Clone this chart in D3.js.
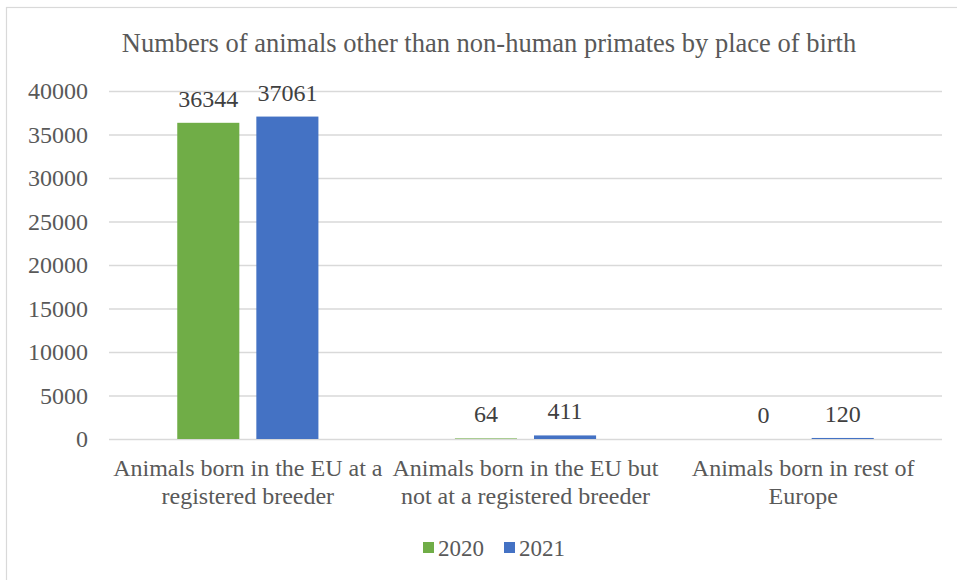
<!DOCTYPE html>
<html>
<head>
<meta charset="utf-8">
<script src="https://cdn.jsdelivr.net/npm/d3@7"></script>
<style>
  html, body { margin: 0; padding: 0; background: #fff; }
  svg { display: block; }
</style>
</head>
<body>
<svg id="chart" width="957" height="580"></svg>
<script>
// Place-of-birth categories (each label split over two lines)
const categories = [
  ["Animals born in the EU at a", "registered breeder"],
  ["Animals born in the EU but", "not at a registered breeder"],
  ["Animals born in rest of", "Europe"]
];
const seriesNames = ["2020", "2021"];
const values2020 = [36344, 64, 0];
const values2021 = [37061, 411, 120];
const yTicks = [0, 5000, 10000, 15000, 20000, 25000, 30000, 35000, 40000];
const colors = ["#70AD47", "#4472C4"];
const title = "Numbers of animals other than non-human primates by place of birth";

const FONT = '"Liberation Serif", serif';
const svg = d3.select("#chart");

// chart frame (runs off the right and bottom edges)
svg.append("rect")
  .attr("x", 6.5).attr("y", 7.5)
  .attr("width", 1000).attr("height", 600)
  .attr("fill", "#fff").attr("stroke", "#d9d9d9").attr("stroke-width", 1.2);

const plot = { left: 109, right: 942, top: 91, bottom: 439 };

const x0 = d3.scaleBand()
  .domain(d3.range(categories.length))
  .range([plot.left, plot.right])
  .paddingInner(0.4916)
  .paddingOuter(0.2458);

const x1 = d3.scaleBand()
  .domain(seriesNames)
  .range([0, x0.bandwidth()])
  .paddingInner(0.215);

const y = d3.scaleLinear()
  .domain([0, 40000])
  .range([plot.bottom, plot.top]);

// title
svg.append("text")
  .attr("x", 489)
  .attr("y", 52)
  .attr("text-anchor", "middle")
  .attr("fill", "#595959")
  .style("font-family", FONT)
  .style("font-size", "26.5px")
  .text(title);

// gridlines + y labels via axis
const yAxis = d3.axisLeft(y)
  .tickValues(yTicks)
  .tickSize(-(plot.right - plot.left))
  .tickPadding(21)
  .tickFormat(d3.format("d"));

const gy = svg.append("g")
  .attr("transform", `translate(${plot.left},0)`)
  .call(yAxis)
  .attr("font-family", null)
  .attr("font-size", null);
gy.select(".domain").remove();
gy.selectAll(".tick line").attr("stroke", "#d9d9d9").attr("stroke-width", 1.3);
gy.selectAll(".tick text")
  .attr("fill", "#595959")
  .style("font-family", FONT)
  .style("font-size", "24px");

// bars
const rows = categories.map((c, i) => ({
  i,
  vals: [values2020[i], values2021[i]]
}));

const groups = svg.append("g").selectAll("g")
  .data(rows)
  .join("g")
  .attr("transform", d => `translate(${x0(d.i)},0)`);

groups.selectAll("rect")
  .data(d => d.vals.map((v, k) => ({ k, v })))
  .join("rect")
  .attr("x", d => x1(seriesNames[d.k]))
  .attr("width", x1.bandwidth())
  .attr("y", d => y(d.v))
  .attr("height", d => y(0) - y(d.v))
  .attr("fill", d => colors[d.k]);

// value labels
groups.selectAll("text.val")
  .data(d => d.vals.map((v, k) => ({ k, v })))
  .join("text")
  .attr("class", "val")
  .attr("x", d => x1(seriesNames[d.k]) + x1.bandwidth() / 2)
  .attr("y", d => y(d.v) - 16)
  .attr("text-anchor", "middle")
  .attr("fill", "#404040")
  .style("font-family", FONT)
  .style("font-size", "24px")
  .text(d => d.v);

// category labels
const xl = svg.append("g");
categories.forEach((lines, i) => {
  const cx = x0(i) + x0.bandwidth() / 2;
  const t = xl.append("text")
    .attr("x", cx)
    .attr("y", 476)
    .attr("text-anchor", "middle")
    .attr("fill", "#595959")
    .style("font-family", FONT)
    .style("font-size", "24px");
  lines.forEach((ln, j) => {
    t.append("tspan")
      .attr("x", cx)
      .attr("dy", j === 0 ? 0 : 28)
      .text(ln);
  });
});

// legend
const legend = svg.append("g").attr("transform", "translate(423,548)");
const legendX = [0, 81];
seriesNames.forEach((s, k) => {
  const g = legend.append("g").attr("transform", `translate(${legendX[k]},0)`);
  g.append("rect").attr("x", 0).attr("y", -6).attr("width", 11).attr("height", 11).attr("fill", colors[k]);
  g.append("text").attr("x", 15).attr("y", 8)
    .attr("fill", "#595959")
    .style("font-family", FONT)
    .style("font-size", "23px")
    .text(s);
});
</script>
</body>
</html>
